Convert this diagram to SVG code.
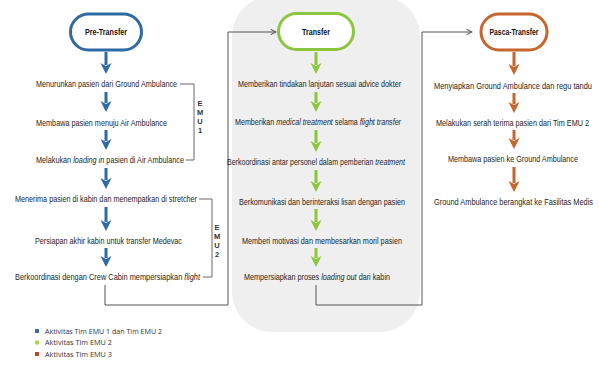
<svg xmlns="http://www.w3.org/2000/svg" width="599" height="373" viewBox="0 0 599 373">
<style>
.t{font-family:"Liberation Sans Narrow","Liberation Sans",Arial,sans-serif;font-size:8.5px;fill:#1e1e1e}
.h{font-family:"Liberation Sans Narrow","Liberation Sans",Arial,sans-serif;font-size:9px;font-weight:bold;fill:#111;text-anchor:middle}
.e{font-family:"Liberation Sans",Arial,sans-serif;font-size:7.5px;font-weight:bold;fill:#333;text-anchor:middle}
.lg{font-family:"Open Sans","Noto Sans",sans-serif;font-size:7.5px;fill:#333}
.i{font-style:italic}
.br{fill:none;stroke:#666;stroke-width:1}
.cn{fill:none;stroke:#555;stroke-width:1}
.ab{stroke:#2f6aa5;stroke-width:3}
.ag{stroke:#8cc63f;stroke-width:3}
.ao{stroke:#c8652c;stroke-width:3}
</style>
<defs>
<marker id="hb" viewBox="0 0 12 12" refX="2" refY="6" markerWidth="12" markerHeight="12" markerUnits="userSpaceOnUse" orient="auto"><path d="M0,0.5 L11,6 L0,11.5 L3,6 Z" fill="#2f6aa5"/></marker>
<marker id="hg" viewBox="0 0 12 12" refX="2" refY="6" markerWidth="12" markerHeight="12" markerUnits="userSpaceOnUse" orient="auto"><path d="M0,0.5 L11,6 L0,11.5 L3,6 Z" fill="#8cc63f"/></marker>
<marker id="ho" viewBox="0 0 12 12" refX="2" refY="6" markerWidth="12" markerHeight="12" markerUnits="userSpaceOnUse" orient="auto"><path d="M0,0.5 L11,6 L0,11.5 L3,6 Z" fill="#c8652c"/></marker>
<marker id="hc" viewBox="0 0 8 8" refX="7" refY="4" markerWidth="7" markerHeight="7" markerUnits="userSpaceOnUse" orient="auto"><path d="M1,1 L7,4 L1,7" fill="none" stroke="#555" stroke-width="1.2"/></marker>
</defs>

<rect id="transfer-bg" x="232" y="-4" width="188" height="336" rx="40" fill="#efefef"/>

<g id="connectors">
<path class="cn" d="M105,285 V305 H228 V32 H276" marker-end="url(#hc)"/>
<path class="cn" d="M316,285 V305 H422 V32 H472" marker-end="url(#hc)"/>
<path class="br" d="M180,84 H194 V160 H186"/>
<path class="br" d="M199,199 H212 V277 H203"/>
<line class="ab" x1="106" y1="52" x2="106" y2="65" marker-end="url(#hb)"/>
<line class="ab" x1="106" y1="92" x2="106" y2="103" marker-end="url(#hb)"/>
<line class="ab" x1="106" y1="130" x2="106" y2="141" marker-end="url(#hb)"/>
<line class="ab" x1="106" y1="168" x2="106" y2="180" marker-end="url(#hb)"/>
<line class="ab" x1="106" y1="207" x2="106" y2="222" marker-end="url(#hb)"/>
<line class="ab" x1="106" y1="248" x2="106" y2="258" marker-end="url(#hb)"/>
<line class="ag" x1="316" y1="52" x2="316" y2="65" marker-end="url(#hg)"/>
<line class="ag" x1="316" y1="92" x2="316" y2="103" marker-end="url(#hg)"/>
<line class="ag" x1="316" y1="130" x2="316" y2="143" marker-end="url(#hg)"/>
<line class="ag" x1="316" y1="170" x2="316" y2="183" marker-end="url(#hg)"/>
<line class="ag" x1="316" y1="209" x2="316" y2="222" marker-end="url(#hg)"/>
<line class="ag" x1="316" y1="248" x2="316" y2="258" marker-end="url(#hg)"/>
<line class="ao" x1="514" y1="52" x2="514" y2="66" marker-end="url(#ho)"/>
<line class="ao" x1="514" y1="93" x2="514" y2="104" marker-end="url(#ho)"/>
<line class="ao" x1="514" y1="130" x2="514" y2="140" marker-end="url(#ho)"/>
<line class="ao" x1="514" y1="167" x2="514" y2="183" marker-end="url(#ho)"/>
</g>

<g id="pre-transfer">
<rect x="70.5" y="14" width="71" height="36" rx="18" fill="#fff" stroke="#2f6aa5" stroke-width="3"/>
<text class="h" x="106" y="35" textLength="42" lengthAdjust="spacingAndGlyphs">Pre-Transfer</text>
</g>
<g id="pre-1" transform="translate(36,87) scale(0.85,1)"><text class="t" x="0" y="0" textLength="165.9" lengthAdjust="spacingAndGlyphs">Menurunkan pasien dari Ground Ambulance</text></g>
<g id="pre-2" transform="translate(36,126) scale(0.85,1)"><text class="t" x="0" y="0" textLength="154.1" lengthAdjust="spacingAndGlyphs">Membawa pasien menuju Air Ambulance</text></g>
<g id="pre-3" transform="translate(36,163) scale(0.85,1)"><text class="t" x="0" y="0" textLength="174.1" lengthAdjust="spacingAndGlyphs">Melakukan <tspan class="i">loading in</tspan> pasien di Air Ambulance</text></g>
<g id="pre-4" transform="translate(15,202) scale(0.85,1)"><text class="t" x="0" y="0" textLength="214.1" lengthAdjust="spacingAndGlyphs">Menerima pasien di kabin dan menempatkan di stretcher</text></g>
<g id="pre-5" transform="translate(35,244) scale(0.85,1)"><text class="t" x="0" y="0" textLength="172.9" lengthAdjust="spacingAndGlyphs">Persiapan akhir kabin untuk transfer Medevac</text></g>
<g id="pre-6" transform="translate(15,280) scale(0.85,1)"><text class="t" x="0" y="0" textLength="217.6" lengthAdjust="spacingAndGlyphs">Berkoordinasi dengan Crew Cabin mempersiapkan <tspan class="i">flight</tspan></text></g>
<g id="emu1">
<text class="e" x="200" y="106">E</text><text class="e" x="200" y="115">M</text><text class="e" x="200" y="124">U</text><text class="e" x="200" y="133">1</text>
</g>
<g id="emu2">
<text class="e" x="217" y="230">E</text><text class="e" x="217" y="239">M</text><text class="e" x="217" y="248">U</text><text class="e" x="217" y="257">2</text>
</g>

<g id="transfer">
<rect x="278.5" y="13.5" width="75" height="36" rx="18" fill="#fff" stroke="#8cc63f" stroke-width="3"/>
<text class="h" x="316" y="35" textLength="28" lengthAdjust="spacingAndGlyphs">Transfer</text>
</g>
<g id="tr-1" transform="translate(238,87) scale(0.85,1)"><text class="t" x="0" y="0" textLength="191.8" lengthAdjust="spacingAndGlyphs">Memberikan tindakan lanjutan sesuai advice dokter</text></g>
<g id="tr-2" transform="translate(235,125) scale(0.85,1)"><text class="t" x="0" y="0" textLength="195.3" lengthAdjust="spacingAndGlyphs">Memberikan <tspan class="i">medical treatment</tspan> selama <tspan class="i">flight transfer</tspan></text></g>
<g id="tr-3" transform="translate(227,165) scale(0.8,1)"><text class="t" x="0" y="0" textLength="222.5" lengthAdjust="spacingAndGlyphs">Berkoordinasi antar personel dalam pemberian <tspan class="i">treatment</tspan></text></g>
<g id="tr-4" transform="translate(239,205) scale(0.85,1)"><text class="t" x="0" y="0" textLength="195.3" lengthAdjust="spacingAndGlyphs">Berkomunikasi dan berinteraksi lisan dengan pasien</text></g>
<g id="tr-5" transform="translate(242,244) scale(0.85,1)"><text class="t" x="0" y="0" textLength="188.2" lengthAdjust="spacingAndGlyphs">Memberi motivasi dan membesarkan moril pasien</text></g>
<g id="tr-6" transform="translate(244,280) scale(0.85,1)"><text class="t" x="0" y="0" textLength="171.8" lengthAdjust="spacingAndGlyphs">Mempersiapkan proses <tspan class="i">loading out</tspan> dari kabin</text></g>

<g id="pasca-transfer">
<rect x="481" y="14" width="66" height="36" rx="18" fill="#fff" stroke="#c8652c" stroke-width="3"/>
<text class="h" x="514" y="35" textLength="49" lengthAdjust="spacingAndGlyphs">Pasca-Transfer</text>
</g>
<g id="pa-1" transform="translate(434,89) scale(0.85,1)"><text class="t" x="0" y="0" textLength="185.9" lengthAdjust="spacingAndGlyphs">Menyiapkan Ground Ambulance dan regu tandu</text></g>
<g id="pa-2" transform="translate(436,126) scale(0.85,1)"><text class="t" x="0" y="0" textLength="180" lengthAdjust="spacingAndGlyphs">Melakukan serah terima pasien dari Tim EMU 2</text></g>
<g id="pa-3" transform="translate(448,162) scale(0.85,1)"><text class="t" x="0" y="0" textLength="152.9" lengthAdjust="spacingAndGlyphs">Membawa pasien ke Ground Ambulance</text></g>
<g id="pa-4" transform="translate(434,205) scale(0.85,1)"><text class="t" x="0" y="0" textLength="187.1" lengthAdjust="spacingAndGlyphs">Ground Ambulance berangkat ke Fasilitas Medis</text></g>

<g id="legend">
<rect x="35" y="329" width="4" height="4" fill="#3d6f98"/>
<text class="lg" x="45" y="333.5" textLength="117" lengthAdjust="spacingAndGlyphs">Aktivitas Tim EMU 1 dan Tim EMU 2</text>
<rect x="35" y="340.5" width="4" height="4" fill="#a5d84a"/>
<text class="lg" x="45" y="345" textLength="67" lengthAdjust="spacingAndGlyphs">Aktivitas Tim EMU 2</text>
<rect x="35" y="352" width="4" height="4" fill="#c4452d"/>
<text class="lg" x="45" y="356.5" textLength="67" lengthAdjust="spacingAndGlyphs">Aktivitas Tim EMU 3</text>
</g>
</svg>
